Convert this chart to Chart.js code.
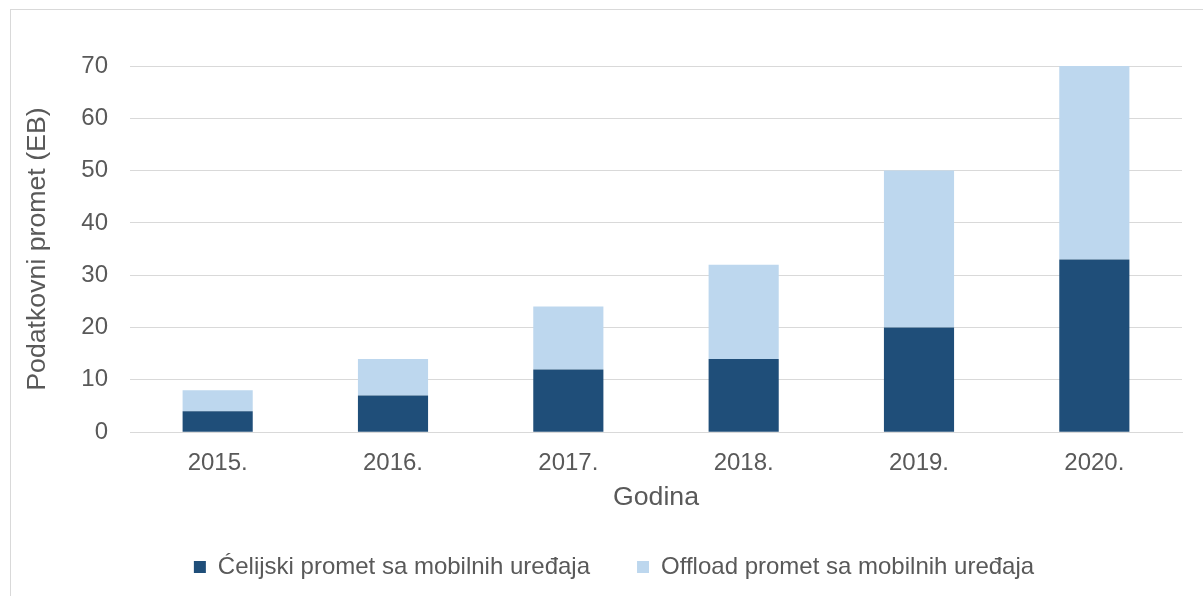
<!DOCTYPE html>
<html>
<head>
<meta charset="utf-8">
<script src="https://cdn.jsdelivr.net/npm/chart.js@4/dist/chart.umd.min.js"></script>
<style>
  html, body { margin: 0; padding: 0; background: #ffffff; overflow: hidden; width: 1203px; height: 596px; }
  #frame { position: absolute; left: 10px; top: 9px; width: 1400px; height: 800px; border-left: 1px solid #d9d9d9; border-top: 1px solid #d9d9d9; }
  #wrap { position: absolute; left: 10px; top: 10px; width: 1208px; height: 590px; }
</style>
</head>
<body>
<div id="frame"></div>
<div id="wrap"><canvas id="c" width="1208" height="590"></canvas></div>
<script>
const categories = ['2015.', '2016.', '2017.', '2018.', '2019.', '2020.'];
const cellularTraffic = [4, 7, 12, 14, 20, 33];
const offloadTraffic = [4, 7, 12, 18, 30, 37];
const seriesNames = ['Ćelijski promet sa mobilnih uređaja', 'Offload promet sa mobilnih uređaja'];
const xTitle = 'Godina';
const yTitle = 'Podatkovni promet (EB)';

const textColor = '#595959';
const gridColor = '#d9d9d9';
const fontFamily = '"Liberation Sans", Arial, sans-serif';

new Chart(document.getElementById('c'), {
  type: 'bar',
  data: {
    labels: categories,
    datasets: [
      { label: seriesNames[0], data: cellularTraffic, backgroundColor: '#1F4E79', borderWidth: 0 },
      { label: seriesNames[1], data: offloadTraffic, backgroundColor: '#BDD7EE', borderWidth: 0 }
    ]
  },
  options: {
    responsive: false,
    animation: false,
    devicePixelRatio: 1,
    categoryPercentage: 1.0,
    barPercentage: 0.4,
    layout: { padding: { top: 56, right: 0, bottom: 11, left: 0 } },
    plugins: {
      tooltip: { enabled: false },
      legend: {
        position: 'bottom',
        labels: {
          boxWidth: 12,
          boxHeight: 12,
          padding: 47,
          color: textColor,
          font: { family: fontFamily, size: 24 }
        }
      }
    },
    scales: {
      x: {
        stacked: true,
        grid: { display: false, drawTicks: false },
        border: { display: true, color: gridColor, width: 1 },
        ticks: { color: textColor, padding: 17, font: { family: fontFamily, size: 24 } },
        title: { display: true, text: xTitle, color: textColor, padding: { top: -13, bottom: -6 }, font: { family: fontFamily, size: 26.7 } }
      },
      y: {
        stacked: true,
        min: 0,
        max: 70,
        afterFit: (s) => { s.width = 120; },
        grid: { color: gridColor, lineWidth: 1, drawTicks: false },
        border: { display: false },
        ticks: { stepSize: 10, color: textColor, padding: 22, font: { family: fontFamily, size: 24 } },
        title: { display: true, text: yTitle, color: textColor, padding: { top: 12, bottom: 0 }, font: { family: fontFamily, size: 26.7 } }
      },
      spacer: {
        type: 'linear',
        position: 'right',
        display: true,
        min: 0,
        max: 70,
        afterFit: (s) => { s.width = 36; },
        grid: { display: false, drawTicks: false },
        border: { display: false },
        ticks: { display: false },
        title: { display: false }
      }
    }
  }
});
</script>
</body>
</html>
